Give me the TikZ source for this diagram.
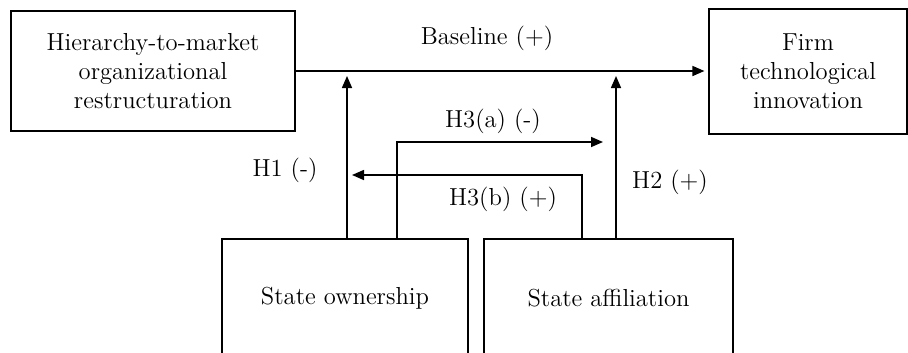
\documentclass[tikz,border=0pt]{standalone}
\usepackage{amsmath}
\usepackage{tikz}
\usepackage{xcolor}
\usetikzlibrary{arrows.meta}
\tikzstyle{box} = [rectangle, draw, line width=0.7pt, inner sep=0pt, align=center]
\tikzstyle{arr} = [line width=0.9pt, -{Triangle[length=0.24cm,width=0.2cm]}]

\begin{document}
\begin{tikzpicture}[x=0.02cm, y=-0.02cm]
			\tikzset{every node/.style={font=\fontsize{14}{16.5}\selectfont}}
\useasboundingbox (0,0) rectangle (908,352);

\node[box, minimum width=5.68cm, minimum height=2.4cm] (hier) at (153,71) {Hierarchy-to-market\\organizational\\restructuration};
\node[box, minimum width=3.96cm, minimum height=2.5cm] (firm) at (808,71.5) {Firm\\technological\\innovation};
\node[box, minimum width=4.92cm, minimum height=2.36cm] (own) at (345,298) {State ownership};
\node[box, minimum width=4.98cm, minimum height=2.36cm] (aff) at (608.5,298) {State affiliation};

\coordinate (h1) at (347,76);
\coordinate (h2) at (616,76);
\coordinate (a1) at (397,142);
\coordinate (h3a) at (603,142);
\coordinate (b1) at (582,175);
\coordinate (h3b) at (352,175);

\draw[arr, shorten >=0.08cm] (hier.east) -- (hier.east -| firm.west);

\foreach \from/\to in {own/h1,aff/h2}
{
	\draw[arr] (\from.north -| \to) -- (\to);
}
\draw[arr] (own.north -| a1) -- (a1) -- (h3a);
\draw[arr] (aff.north -| b1) -- (b1) -- (h3b);

\node (lbase) at (487,38) {Baseline (+)};
\node (lh1) at (285,170) {H1 (-)};
\node (lh2) at (670,182) {H2 (+)};
\node (lh3a) at (493,121) {H3(a) (-)};
\node (lh3b) at (503,199) {H3(b) (+)};

		\end{tikzpicture}
\end{document}
